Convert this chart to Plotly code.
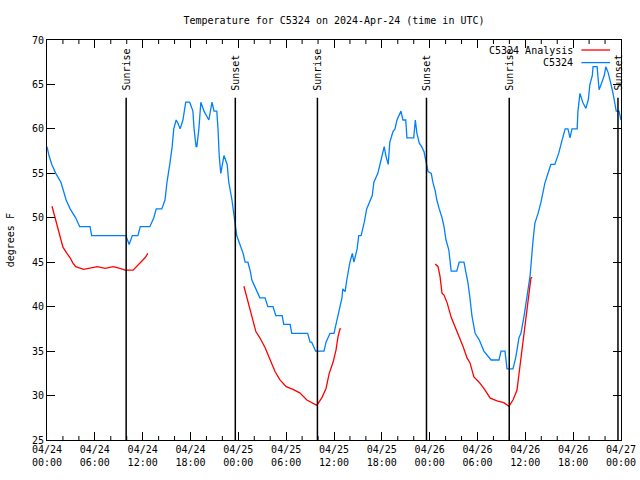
import pandas as pd
import plotly.graph_objects as go

START = pd.Timestamp("2024-04-24 00:00")

# Observations (hours since 04/24 00:00 UTC, deg F)
obs_hours = [0.0, 0.25, 0.6, 1.1, 1.75, 2.1, 2.4, 2.9, 3.6, 4.1, 5.4, 5.6, 9.9, 10.3, 10.7, 11.4, 11.7, 12.9,
             13.4, 13.7, 14.4, 14.8, 15.05, 15.4, 15.7, 15.9, 16.2, 16.4, 16.7, 17.05, 17.4, 17.9, 18.3, 18.45,
             18.7, 18.8, 19.05, 19.3, 19.7, 20.3, 20.7, 20.95, 21.3, 21.45, 21.6, 21.8, 22.2, 22.6, 22.8, 23.2,
             23.6, 23.8, 24.2, 24.6, 24.85, 25.2, 25.5, 25.7, 26.2, 26.7, 27.35, 27.7, 28.35, 28.7, 29.5, 29.7,
             30.5, 30.7, 32.7, 33.0, 33.2, 33.7, 34.75, 35.0, 35.5, 36.0, 36.25, 36.5, 37.0, 37.1, 37.4, 37.6,
             38.0, 38.3, 38.5, 38.9, 39.1, 39.4, 39.8, 40.1, 40.5, 40.8, 41.0, 41.5, 41.9, 42.15, 42.3, 42.5,
             42.8, 43.0, 43.4, 43.65, 43.9, 44.4, 44.65, 45.0, 45.15, 46.0, 46.2, 46.4, 46.7, 47.0, 47.3, 47.55,
             47.8, 48.2, 48.4, 48.7, 48.9, 49.2, 49.55, 49.8, 50.05, 50.4, 50.7, 51.4, 51.7, 52.3, 52.55, 52.8,
             53.05, 53.3, 53.7, 54.2, 54.8, 55.7, 56.7, 56.95, 57.45, 57.7, 58.45, 58.8, 59.2, 59.45, 59.85,
             60.2, 60.6, 60.95, 61.2, 61.6, 61.95, 62.45, 62.7, 63.2, 63.7, 64.2, 64.6, 65.0, 65.35, 65.6,
             65.85, 66.5, 66.6, 66.85, 67.2, 67.6, 67.9, 68.1, 68.4, 68.5, 69.0, 69.25, 69.5, 69.9, 70.1, 70.4,
             70.75, 71.0, 71.4, 71.75, 72.0]
obs_temps = [58, 57, 56, 55, 54, 53, 52, 51, 50, 49, 49, 48, 48, 47, 48, 48, 49, 49,
             50, 51, 51, 52, 54, 56, 58, 60, 61, 60.7, 60, 61, 63, 63, 62, 60,
             58, 58, 60, 63, 62, 61, 63, 62, 62, 60, 57, 55, 57, 56, 54, 52,
             49.5, 48, 47, 46, 45, 45, 44, 43, 42, 41, 41, 40, 40, 39, 39, 38,
             38, 37, 37, 36, 36, 35, 35, 36, 37, 37, 38, 39, 41, 42, 41.7, 43,
             45, 46, 45, 46.5, 48, 48, 49.5, 51, 52, 52.5, 54, 55, 56.5, 57.5, 58, 57,
             56, 58.5, 59.7, 60, 61, 62, 61, 61, 59, 59, 61, 59.5, 58.4, 58, 57.4, 56.3,
             55.2, 55, 54, 53, 52, 51, 50, 49, 47.5, 46.4, 44, 44, 45, 45, 44, 42.7,
             41, 39, 37, 36.3, 35, 34, 34, 35, 35, 33, 33, 34.3, 36.5, 37, 39,
             41, 43.5, 47.3, 49.4, 50.5, 51.7, 53.9, 54.6, 56, 56, 57.3, 58.7, 60, 60, 59,
             60, 60, 62, 64, 63, 62.3, 63.3, 65, 66, 67, 67, 64.4, 65, 66, 67, 66.3,
             65, 64, 62, 62, 61]

# Analysis (three separate runs)
ana1_hours = [0.63, 1.0, 1.25, 1.6, 2.0, 2.5, 2.9, 3.25, 3.6, 4.6, 5.25, 6.3, 7.3, 8.3, 9.15, 9.8, 10.8, 11.7, 12.3, 12.65]
ana1_temps = [51.3, 50, 49, 48, 46.7, 46, 45.5, 44.9, 44.5, 44.2, 44.3, 44.5, 44.3, 44.5, 44.3, 44.1, 44.1, 44.9, 45.5, 46]
ana2_hours = [24.7, 25.0, 25.35, 25.7, 26.2, 26.7, 27.35, 28.0, 28.6, 29.2, 30.0, 30.85, 31.7, 32.6, 33.85,
              34.5, 35.0, 35.4, 35.9, 36.25, 36.5, 36.75, 36.9]
ana2_temps = [42.3, 41.3, 40, 38.9, 37.2, 36.5, 35.4, 34, 32.7, 31.8, 31, 30.7, 30.3, 29.5, 28.9,
              29.8, 30.8, 32.5, 33.8, 35.1, 36.6, 37.5, 37.5]
ana3_hours = [48.7, 49.05, 49.3, 49.55, 49.8, 50.2, 50.7, 51.2, 51.7, 52.2, 52.7, 53.05, 53.55, 54.2, 54.8,
              55.6, 56.45, 57.3, 57.95, 58.45, 58.95, 59.2, 59.6, 59.95, 60.3, 60.7, 60.85]
ana3_temps = [44.8, 44.5, 43.4, 41.5, 41.3, 40.4, 38.8, 37.7, 36.8, 35.5, 34.2, 33.7, 32.1, 31.5, 30.8,
              29.7, 29.4, 29.2, 28.8, 29.5, 30.6, 32.5, 35.1, 38.1, 40.8, 43.2, 43.3]

sun_hours = [9.93, 23.62, 33.92, 47.6, 57.98, 71.62]
sun_labels = ["Sunrise", "Sunset", "Sunrise", "Sunset", "Sunrise", "Sunset"]

tick_hours = list(range(0, 73, 6))
tick_text = ["04/24<br>00:00", "04/24<br>06:00", "04/24<br>12:00", "04/24<br>18:00",
             "04/25<br>00:00", "04/25<br>06:00", "04/25<br>12:00", "04/25<br>18:00",
             "04/26<br>00:00", "04/26<br>06:00", "04/26<br>12:00", "04/26<br>18:00",
             "04/27<br>00:00"]
minor_hours = [h for h in range(0, 73, 2) if h % 6 != 0]
y_ticks = [25, 30, 35, 40, 45, 50, 55, 60, 65, 70]


def t(h):
    return START + pd.Timedelta(hours=h)


FONT = dict(family="DejaVu Sans Mono", size=10, color="black")
BLUE = "#0080ff"
RED = "#ff0000"

ana_x = [t(h) for h in ana1_hours] + [None] + [t(h) for h in ana2_hours] + [None] + [t(h) for h in ana3_hours]
ana_y = ana1_temps + [None] + ana2_temps + [None] + ana3_temps

fig = go.Figure()
fig.add_trace(go.Scatter(x=[t(h) for h in obs_hours], y=obs_temps, mode="lines",
                         line=dict(color=BLUE, width=1.3), name="C5324"))
fig.add_trace(go.Scatter(x=ana_x, y=ana_y, mode="lines", connectgaps=False,
                         line=dict(color=RED, width=1.3), name="C5324 Analysis"))

shapes = []
annotations = []
for h, lab in zip(sun_hours, sun_labels):
    shapes.append(dict(type="line", xref="x", yref="y", x0=t(h), x1=t(h), y0=25, y1=63.5,
                       line=dict(color="black", width=1.5)))
    annotations.append(dict(x=t(h), y=64.1, xref="x", yref="y", text=lab, textangle=-90,
                            showarrow=False, xanchor="center", yanchor="bottom", font=FONT))

# minor x ticks (bottom and top, inward)
for h in minor_hours:
    shapes.append(dict(type="line", xref="x", yref="paper", x0=t(h), x1=t(h), y0=0, y1=0.01,
                       line=dict(color="black", width=1)))
    shapes.append(dict(type="line", xref="x", yref="paper", x0=t(h), x1=t(h), y0=0.99, y1=1,
                       line=dict(color="black", width=1)))

# legend (gnuplot style: text then line sample)
leg = [("C5324 Analysis", RED, 0.975), ("C5324", BLUE, 0.9435)]
for name, col, yy in leg:
    annotations.append(dict(x=0.92, y=yy, xref="paper", yref="paper", text=name, showarrow=False,
                            xanchor="right", yanchor="middle", font=FONT))
    shapes.append(dict(type="line", xref="paper", yref="paper", x0=0.931, x1=0.981, y0=yy, y1=yy,
                       line=dict(color=col, width=1.3)))

annotations.append(dict(x=-0.064, y=0.5, xref="paper", yref="paper", text="degrees F", textangle=-90,
                        showarrow=False, xanchor="center", yanchor="middle", font=FONT))

fig.update_layout(
    width=640, height=480, autosize=False,
    margin=dict(l=47, r=19, t=40, b=40),
    paper_bgcolor="white", plot_bgcolor="white",
    showlegend=False,
    title=dict(text="Temperature for C5324 on 2024-Apr-24 (time in UTC)", x=0.5, xref="paper",
               xanchor="center", y=0.958, yanchor="middle", font=FONT),
    shapes=shapes, annotations=annotations,
    font=FONT,
)
fig.update_xaxes(type="date", range=[t(0), t(72)], tickvals=[t(h) for h in tick_hours], ticktext=tick_text,
                 ticks="inside", ticklen=8, tickcolor="black", showline=True, linecolor="black", linewidth=1,
                 mirror="allticks", showgrid=False, zeroline=False, tickfont=FONT, automargin=False)
fig.update_yaxes(range=[25, 70], tickvals=y_ticks, ticks="inside", ticklen=8, tickcolor="black",
                 showline=True, linecolor="black", linewidth=1, mirror="allticks", showgrid=False,
                 zeroline=False, tickfont=FONT, automargin=False)

fig.write_html("out.html")
